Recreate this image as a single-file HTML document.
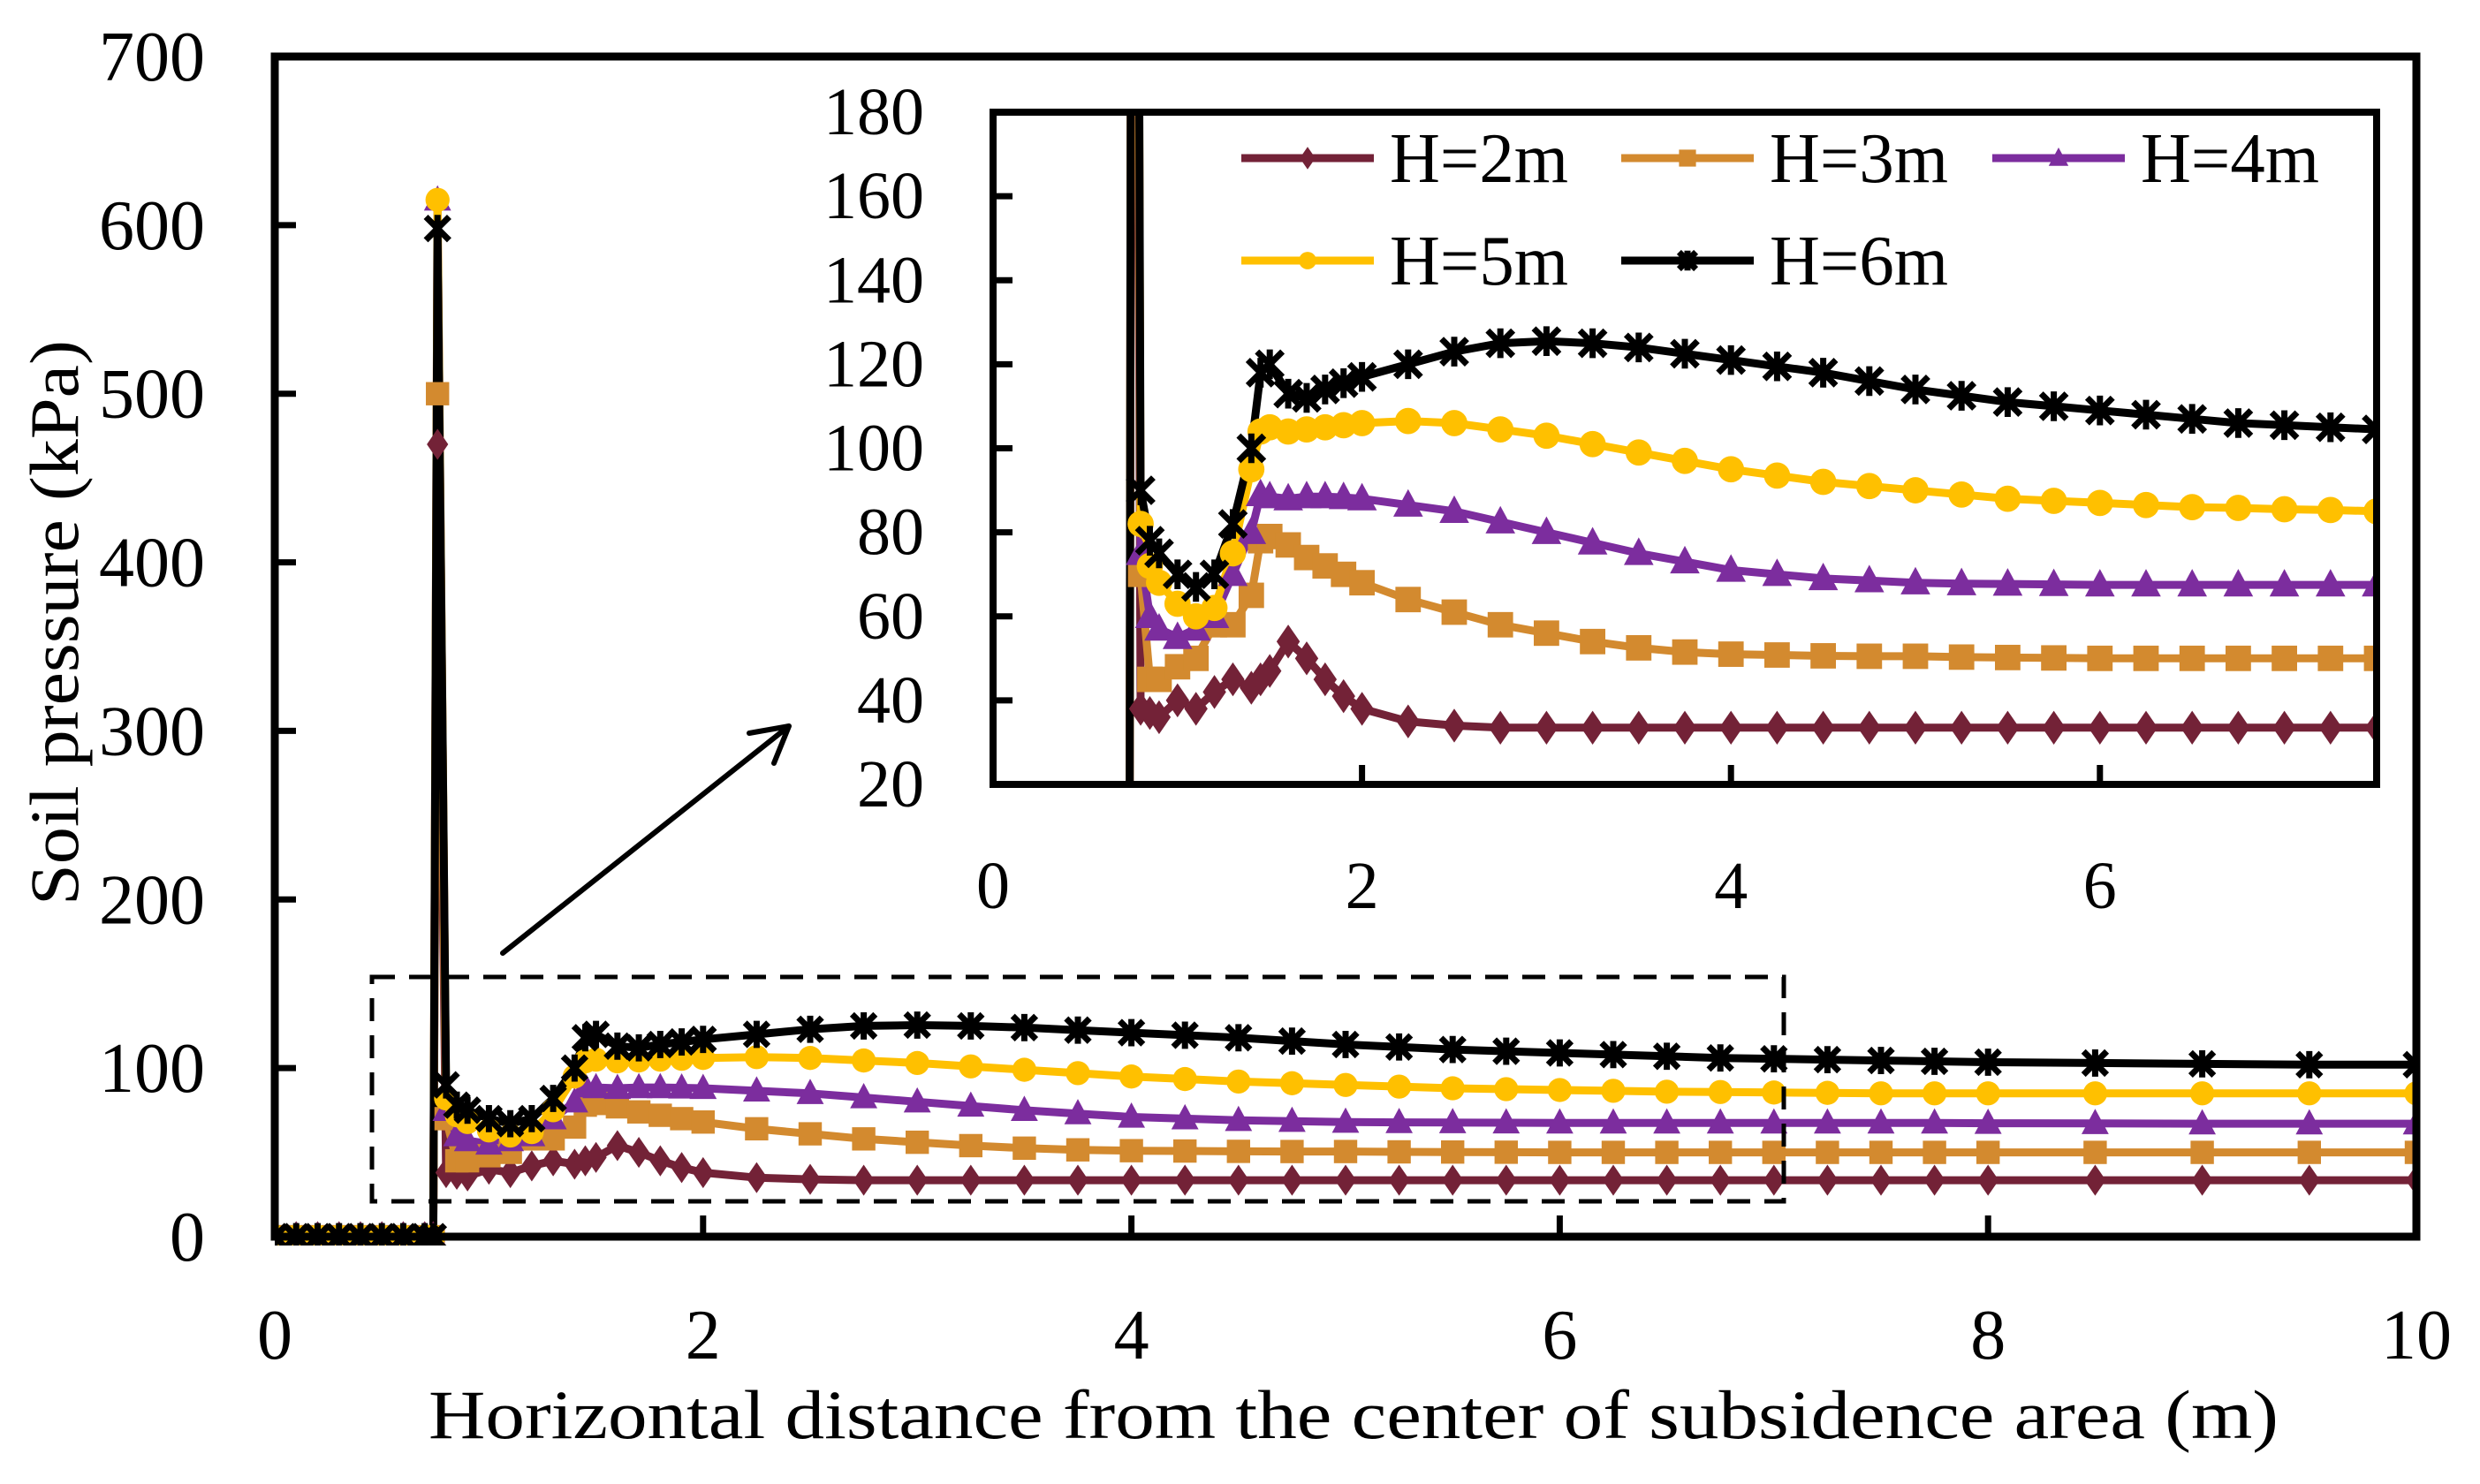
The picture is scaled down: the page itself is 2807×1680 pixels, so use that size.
<!DOCTYPE html>
<html><head><meta charset="utf-8"><style>
html,body{margin:0;padding:0;background:#fff;}
svg{display:block;font-family:"Liberation Serif",serif;}
</style></head><body>
<svg id="chart" width="2807" height="1680" viewBox="0 0 2807 1680" xmlns="http://www.w3.org/2000/svg">
<defs>
<clipPath id="mainClip"><rect x="311" y="60" width="2428" height="1350"/></clipPath>
<clipPath id="insetClip"><rect x="1124" y="127" width="1566" height="761"/></clipPath>
</defs>
<g id="main"></g>
<g id="inset"></g>
</svg>
<script>
const xValues = [0,0.1,0.2,0.3,0.4,0.5,0.6,0.7,0.74,0.76,
 0.8,0.85,0.9,1.0,1.1,1.2,1.3,1.4,1.45,1.5,1.6,1.7,1.8,1.9,2.0,
 2.25,2.5,2.75,3.0,3.25,3.5,3.75,4.0,4.25,4.5,4.75,5.0,5.25,5.5,5.75,6.0,6.25,6.5,6.75,7.0,7.25,7.5,7.75,8.0,
 8.5,9.0,9.5,10];
const h2 = [0,0,0,0,0,0,0,0,0,470,
 38,37,36,40,38,42,45,43,45,47,54,50,45,41,38,
 35,34,33.5,33.5,33.5,33.5,33.5,33.5,33.5,33.5,33.5,33.5,33.5,33.5,33.5,33.5,33.5,33.5,33.5,33.5,33.5,33.5,33.5,33.5,
 33.5,33.5,33.5,33.5];
const h3 = [0,0,0,0,0,0,0,0,0,500,
 70,45,45,48,50,58,58,65,78,79,77,74,72,70,68,
 64,61,58,56,54,52.5,51.5,51,50.8,50.6,50.5,50.5,50.3,50.2,50.1,50,50,50,50,50,50,50,50,50,
 50,50,50,50];
const h4 = [0,0,0,0,0,0,0,0,0,615,
 75,60,57,55,57,60,70,80,89,88.5,88,88.5,88.5,88.3,88,
 86.5,85,82.5,80,77.5,75,73,71,70,69,68.5,68,67.8,67.7,67.6,67.5,67.5,67.5,67.5,67.5,67.5,67.5,67.5,67.3,
 67.2,67,67,67];
const h5 = [0,0,0,0,0,0,0,0,0,615,
 82,72,68,63,60,62,75,95,104,105,104,104.5,105,105.5,106,
 106.5,106,104.5,103,101,99,97,95,93.5,92,91,90,89,88,87.5,87,86.5,86,85.8,85.5,85.3,85,85,85,
 85,85,85,85];
const h6 = [0,0,0,0,0,0,0,0,0,598,
 90,78,75,70,67,70,82,100,118,120,113,112,114,115.5,117,
 120,123,125,125.5,125,124,122.5,121,119.5,118,116,114,112.5,111,110,109,108,107,106,105.5,105,104.5,104,103.5,
 103,102.5,102,102];
const seriesNames = ["H=2m","H=3m","H=4m","H=5m","H=6m"];
const seriesColors = ["#732237","#d38a2f","#7c2d9e","#ffc000","#000000"];
const seriesMarkers = ["diamond","square","triangle","circle","star"];
const seriesData = [h2,h3,h4,h5,h6];
const mainYTicks = [0,100,200,300,400,500,600,700];
const mainXTicks = [0,2,4,6,8,10];
const insetYTicks = [20,40,60,80,100,120,140,160,180];
const insetXTicks = [0,2,4,6];

const NS="http://www.w3.org/2000/svg";
function mk(tag,attrs,parent){const e=document.createElementNS(NS,tag);for(const k in attrs)e.setAttribute(k,attrs[k]);parent.appendChild(e);return e;}

const mx = v => 311 + (v-0)/10*(2735-311);
const my = v => 1400 - v/700*(1400-64);
const ix = v => 1124 + v/7.5*(2690-1124);
const iy = v => 888 - (v-20)/160*(888-127);

function marker(g,type,x,y,color,s){
  let e;
  if(type==="diamond"){e=mk("polygon",{points:`${x},${y-s*0.8} ${x+s*0.55},${y} ${x},${y+s*0.8} ${x-s*0.55},${y}`,fill:color},g);}
  else if(type==="square"){e=mk("rect",{x:x-s*0.6,y:y-s*0.6,width:s*1.2,height:s*1.2,fill:color},g);}
  else if(type==="triangle"){e=mk("polygon",{points:`${x},${y-s*0.75} ${x+s*0.7},${y+s*0.55} ${x-s*0.7},${y+s*0.55}`,fill:color},g);}
  else if(type==="circle"){e=mk("circle",{cx:x,cy:y,r:s*0.62,fill:color},g);}
  else {e=mk("path",{d:`M${x-s*0.6},${y-s*0.6}L${x+s*0.6},${y+s*0.6}M${x+s*0.6},${y-s*0.6}L${x-s*0.6},${y+s*0.6}M${x},${y-s*0.7}L${x},${y+s*0.7}`,stroke:color,"stroke-width":7},g);}
  
  
}

function drawSeries(g,fx,fy,clip,s,xmax){
  const sg=mk("g",{"clip-path":`url(#${clip})`},g);
  
  
  seriesData.forEach((arr,k)=>{
    let d="";
    arr.forEach((v,i)=>{d+=(i?"L":"M")+fx(xValues[i]).toFixed(1)+","+fy(v).toFixed(1);});
    const p=mk("path",{d:d,fill:"none",stroke:seriesColors[k],"stroke-width":9,"stroke-linejoin":"round"},sg);
    
    
  });
  seriesData.forEach((arr,k)=>{
    arr.forEach((v,i)=>{ if(xValues[i]<=xmax) marker(sg,seriesMarkers[k],fx(xValues[i]),fy(v),seriesColors[k],s);});
  });
}

const main=document.getElementById("main");
drawSeries(main,mx,my,"mainClip",22,10);
const mf=mk("rect",{x:311,y:64,width:2424,height:1336,fill:"none",stroke:"#000","stroke-width":9},main);


mainYTicks.forEach(v=>{
  const l=mk("line",{x1:311,x2:335,y1:my(v),y2:my(v),stroke:"#000","stroke-width":7},main);
  
  
  const t=mk("text",{x:232,y:my(v)+27,"text-anchor":"end","font-size":80},main);
  t.textContent=v;
  
  
});
mainXTicks.forEach(v=>{
  if(v>0&&v<10){const l=mk("line",{x1:mx(v),x2:mx(v),y1:1400,y2:1376,stroke:"#000","stroke-width":7},main);
  
  }
  const t=mk("text",{x:mx(v),y:1538,"text-anchor":"middle","font-size":80},main);
  t.textContent=v;
  
  
});
const xt=mk("text",{x:1532,y:1628,"text-anchor":"middle","font-size":78,textLength:2094,lengthAdjust:"spacingAndGlyphs"},main);
xt.textContent="Horizontal distance from the center of subsidence area (m)";


const yt=mk("text",{x:0,y:0,"text-anchor":"middle","font-size":78,textLength:640,lengthAdjust:"spacingAndGlyphs",transform:"translate(88,705) rotate(-90)"},main);
yt.textContent="Soil pressure (kPa)";


const db=mk("rect",{x:421,y:1106,width:1598,height:254,fill:"none",stroke:"#000","stroke-width":5,"stroke-dasharray":"26,16"},main);


const ar=mk("path",{d:"M569,1079L893,822M893,822L848,830M893,822L876,864",stroke:"#000","stroke-width":6,fill:"none","stroke-linecap":"round"},main);



const inset=document.getElementById("inset");
mk("rect",{x:1124,y:127,width:1566,height:761,fill:"#fff"},inset);
drawSeries(inset,ix,iy,"insetClip",24,7.6);
const ifr=mk("rect",{x:1124,y:127,width:1566,height:761,fill:"none",stroke:"#000","stroke-width":8},inset);


insetYTicks.forEach(v=>{
  if(v>20&&v<180){const l=mk("line",{x1:1124,x2:1146,y1:iy(v),y2:iy(v),stroke:"#000","stroke-width":7},inset);
  
  }
  const t=mk("text",{x:1046,y:iy(v)+25,"text-anchor":"end","font-size":76},inset);
  t.textContent=v;
  
  
});
insetXTicks.forEach(v=>{
  if(v>0){const l=mk("line",{x1:ix(v),x2:ix(v),y1:888,y2:866,stroke:"#000","stroke-width":7},inset);
  
  }
  const t=mk("text",{x:ix(v),y:1028,"text-anchor":"middle","font-size":76},inset);
  t.textContent=v;
  
  
});
const legPos=[[1405,179],[1835,179],[2255,179],[1405,295],[1835,295]];
const leg=mk("g",{},inset);


seriesNames.forEach((n,k)=>{
  const [lx,ly]=legPos[k];
  const eg=mk("g",{},leg);
  
  
  mk("line",{x1:lx,x2:lx+150,y1:ly,y2:ly,stroke:seriesColors[k],"stroke-width":9},eg);
  marker(eg,seriesMarkers[k],lx+75,ly,seriesColors[k],16);
  const t=mk("text",{x:lx+168,y:ly+27,"font-size":80,textLength:202,lengthAdjust:"spacingAndGlyphs"},eg);
  t.textContent=n;
  
  
});
</script>
</body></html>
